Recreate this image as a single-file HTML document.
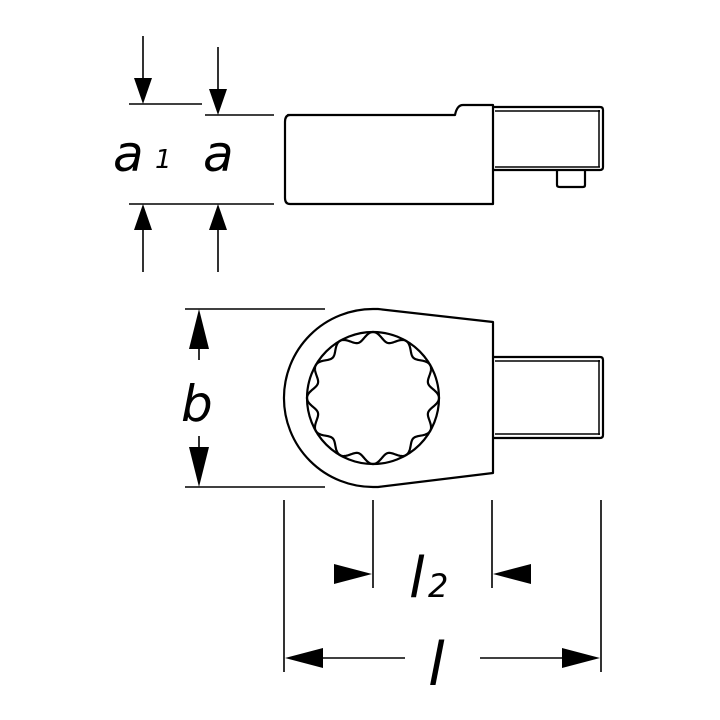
<!DOCTYPE html>
<html><head><meta charset="utf-8"><style>
html,body{margin:0;padding:0;background:#fff;}
svg{display:block;}
text{font-family:"DejaVu Sans","Liberation Sans",sans-serif;font-style:italic;fill:#000;}
</style></head><body>
<svg width="720" height="720" viewBox="0 0 720 720" xmlns="http://www.w3.org/2000/svg">
<g fill="none" stroke="#000" stroke-width="2.2" stroke-linejoin="round">
<!-- side view -->
<path d="M288 115 H455 Q457 105 463 105 H493 V204 H290 Q285 204 285 198 V122 Q285 115 290 115 Z"/>
<path d="M493 107 H600 Q603 107 603 110 V167 Q603 170 600 170 H493"/>
<path d="M495 111 H600 M495 167 H600 M599 110 V167" stroke-width="1.5"/>
<path d="M557 170 V185 Q557 187 560 187 H583 Q585 187 585 185 V170"/>
<!-- top view head -->
<path d="M378 309 L493 322 V473 L378 487 Q376 487 373 487 A89 89 0 1 1 373 309 Q376 309 378 309 Z"/>
<path d="M493 357 H600 Q603 357 603 360 V435 Q603 438 600 438 H493"/>
<path d="M495 361 H600 M495 434 H600 M599 360 V435" stroke-width="1.5"/>
<circle cx="373" cy="398" r="66"/>
<path id="star" d=""/>
<!-- dimension lines -->
<path d="M129 104 H202 M205 115 H274 M129 204 H274" stroke-width="1.6"/>
<path d="M143 36 V80 M218 47 V90 M143 228 V272 M218 228 V272" stroke-width="1.6"/>
<path d="M185 309 H325 M185 487 H325" stroke-width="1.6"/>
<path d="M199 345 V360 M199 436 V452" stroke-width="1.6"/>
<path d="M284 500 V672 M373 500 V588 M492 500 V588 M601 500 V672" stroke-width="1.6"/>
<path d="M320 658 H405 M480 658 H565" stroke-width="1.6"/>
</g>
<g fill="#000">
<polygon points="134,78 152,78 143,104"/>
<polygon points="209,89 227,89 218,115"/>
<polygon points="134,230 152,230 143,204"/>
<polygon points="209,230 227,230 218,204"/>
<polygon points="189,349 209,349 199,309"/>
<polygon points="189,447 209,447 199,487"/>
<polygon points="334,564 334,584 372,574"/>
<polygon points="531,564 531,584 493,574"/>
<polygon points="323,648 323,668 285,658"/>
<polygon points="562,648 562,668 600,658"/>
</g>
<text x="113" y="171" font-size="50">a</text>
<text x="155" y="168" font-size="26">1</text>
<text x="203" y="171" font-size="50">a</text>
<text x="181" y="421" font-size="50">b</text>
<text x="409" y="597" font-size="56">l</text>
<text x="428" y="597" font-size="32">2</text>
<text x="428" y="685" font-size="60">l</text>
<script>
var d="",cx=373,cy=398;
for(var i=0;i<=720;i++){var t=i/720*2*Math.PI;var r=61.5+4.5*Math.cos(12*t);
var x=cx+r*Math.cos(t),y=cy+r*Math.sin(t);d+=(i?"L":"M")+x.toFixed(2)+" "+y.toFixed(2);}
document.getElementById("star").setAttribute("d",d+"Z");
</script>
</svg>
</body></html>
